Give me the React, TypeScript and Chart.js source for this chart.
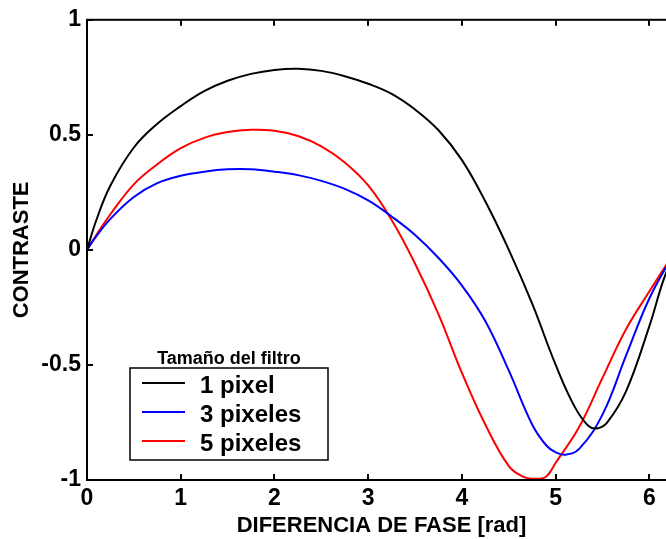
import { useEffect, useRef } from "react";
import { Chart, registerables } from "chart.js";

Chart.register(...registerables);

// Phase difference (rad) and contrast for each filter size
const phase1px = [0, 0.1, 0.25, 0.5, 0.75, 1.0, 1.25, 1.5, 1.75, 2.0, 2.25, 2.5, 2.75, 3.0, 3.25, 3.5, 3.75, 4.0, 4.25, 4.5, 4.75, 5.0, 5.2, 5.35, 5.45, 5.55, 5.75, 6.0, 6.15, 6.283];
const contrast1px = [0, 0.13, 0.28, 0.445, 0.548, 0.625, 0.69, 0.735, 0.765, 0.782, 0.787, 0.778, 0.755, 0.722, 0.678, 0.61, 0.52, 0.39, 0.21, 0.0, -0.235, -0.5, -0.68, -0.765, -0.775, -0.75, -0.615, -0.33, -0.13, 0];

const phase3px = [0, 0.1, 0.25, 0.5, 0.75, 1.0, 1.25, 1.5, 1.75, 2.0, 2.25, 2.5, 2.75, 3.0, 3.25, 3.5, 3.75, 4.0, 4.25, 4.5, 4.75, 4.9, 5.0, 5.1, 5.25, 5.5, 5.75, 6.0, 6.283];
const contrast3px = [0, 0.06, 0.135, 0.23, 0.29, 0.322, 0.34, 0.35, 0.35, 0.34, 0.325, 0.3, 0.265, 0.215, 0.145, 0.065, -0.035, -0.155, -0.31, -0.525, -0.76, -0.85, -0.88, -0.89, -0.865, -0.715, -0.46, -0.21, 0];

const phase5px = [0, 0.1, 0.25, 0.5, 0.75, 1.0, 1.25, 1.5, 1.75, 2.0, 2.25, 2.5, 2.75, 3.0, 3.25, 3.5, 3.75, 4.0, 4.25, 4.5, 4.65, 4.8, 4.9, 5.0, 5.25, 5.5, 5.75, 6.0, 6.283];
const contrast5px = [0, 0.065, 0.155, 0.285, 0.372, 0.442, 0.487, 0.512, 0.522, 0.518, 0.495, 0.45, 0.38, 0.28, 0.13, -0.06, -0.28, -0.535, -0.76, -0.94, -0.985, -0.995, -0.985, -0.925, -0.77, -0.555, -0.345, -0.18, 0];

const seriesLabels = ["1 pixel", "3 pixeles", "5 pixeles"];
const seriesColors = ["#000000", "#0000ff", "#ff0000"];

const xTickValues = [0, 1, 2, 3, 4, 5, 6];
const yTickValues = [-1, -0.5, 0, 0.5, 1];
const yTickLabels = ["-1", "-0.5", "0", "0.5", "1"];

const xTitle = "DIFERENCIA DE FASE [rad]";
const yTitle = "CONTRASTE";
const legendTitle = "Tamaño del filtro";

const FONT = "'Liberation Sans', Arial, Helvetica, sans-serif";
const CANVAS_W = 700;
const CANVAS_H = 539;

// Box around the axes with inward tick marks on all four sides
const framePlugin = {
  id: "axesFrame",
  afterDatasetsDraw(chart: any) {
    const { ctx, chartArea: a, scales } = chart;
    ctx.save();
    ctx.strokeStyle = "#000";
    ctx.lineWidth = 2;
    ctx.strokeRect(a.left, a.top, a.right - a.left, a.bottom - a.top);
    ctx.beginPath();
    const tl = 6;
    for (const v of xTickValues) {
      const px = Math.round(scales.x.getPixelForValue(v));
      ctx.moveTo(px, a.bottom);
      ctx.lineTo(px, a.bottom - tl);
      ctx.moveTo(px, a.top);
      ctx.lineTo(px, a.top + tl);
    }
    for (const v of yTickValues) {
      const py = Math.round(scales.y.getPixelForValue(v));
      ctx.moveTo(a.left, py);
      ctx.lineTo(a.left + tl, py);
      ctx.moveTo(a.right, py);
      ctx.lineTo(a.right - tl, py);
    }
    ctx.stroke();
    ctx.restore();
  },
};

// Boxed legend with its title above it
const legendPlugin = {
  id: "filterLegend",
  afterDraw(chart: any) {
    const { ctx } = chart;
    const x0 = 130;
    const y0 = 368;
    const w = 198;
    const h = 92;
    ctx.save();
    ctx.fillStyle = "#fff";
    ctx.fillRect(x0, y0, w, h);
    ctx.strokeStyle = "#000";
    ctx.lineWidth = 1.5;
    ctx.strokeRect(x0, y0, w, h);
    ctx.fillStyle = "#000";
    ctx.font = `bold 18px ${FONT}`;
    ctx.textAlign = "center";
    ctx.textBaseline = "middle";
    ctx.fillText(legendTitle, x0 + w / 2, y0 - 9);
    chart.data.datasets.forEach((ds: any, i: number) => {
      const y = y0 + 15 + i * 29;
      ctx.strokeStyle = ds.borderColor;
      ctx.lineWidth = 2;
      ctx.beginPath();
      ctx.moveTo(x0 + 12, y);
      ctx.lineTo(x0 + 55, y);
      ctx.stroke();
      ctx.fillStyle = "#000";
      ctx.font = `bold 24px ${FONT}`;
      ctx.textAlign = "left";
      ctx.fillText(ds.label, x0 + 70, y + 3);
    });
    ctx.restore();
  },
};

function toPoints(xs: number[], ys: number[]) {
  return xs.map((x, i) => ({ x, y: ys[i] }));
}

export default function App() {
  const canvasRef = useRef<HTMLCanvasElement | null>(null);

  useEffect(() => {
    const canvas = canvasRef.current;
    if (!canvas) return;
    const series = [
      toPoints(phase1px, contrast1px),
      toPoints(phase3px, contrast3px),
      toPoints(phase5px, contrast5px),
    ];
    const tickFont = { family: FONT, size: 23, weight: "bold" as const };
    const titleFont = { family: FONT, size: 22, weight: "bold" as const };

    const chart = new Chart(canvas, {
      type: "line",
      data: {
        datasets: series.map((data, i) => ({
          label: seriesLabels[i],
          data,
          borderColor: seriesColors[i],
          backgroundColor: seriesColors[i],
          borderWidth: 2,
          pointRadius: 0,
          fill: false,
          tension: 0.4,
        })),
      },
      options: {
        animation: false,
        responsive: false,
        events: [],
        layout: { padding: { top: 18, right: CANVAS_W - 676, left: 0, bottom: 0 } },
        plugins: {
          legend: { display: false },
          tooltip: { enabled: false },
        },
        scales: {
          x: {
            type: "linear",
            min: 0,
            max: 2 * Math.PI,
            afterBuildTicks: (s: any) => {
              s.ticks = xTickValues.map((value) => ({ value }));
            },
            afterFit: (s: any) => {
              s.height = 59;
            },
            grid: { display: false, drawTicks: false },
            border: { display: false },
            ticks: {
              font: tickFont,
              color: "#000",
              padding: 5,
              maxRotation: 0,
              autoSkip: false,
              callback: (v: any) => String(v),
            },
            title: {
              display: true,
              text: xTitle,
              font: titleFont,
              color: "#000",
              padding: { top: 0, bottom: 0 },
            },
          },
          y: {
            type: "linear",
            min: -1,
            max: 1,
            afterBuildTicks: (s: any) => {
              s.ticks = yTickValues.map((value) => ({ value }));
            },
            afterFit: (s: any) => {
              s.width = 87;
            },
            grid: { display: false, drawTicks: false },
            border: { display: false },
            ticks: {
              font: tickFont,
              color: "#000",
              padding: 6,
              autoSkip: false,
              callback: (v: any) => {
                const idx = yTickValues.indexOf(Number(v));
                return idx >= 0 ? yTickLabels[idx] : "";
              },
            },
            title: {
              display: true,
              text: yTitle,
              font: titleFont,
              color: "#000",
              padding: { top: 9, bottom: 0 },
            },
          },
        },
      },
      plugins: [framePlugin, legendPlugin],
    });
    return () => chart.destroy();
  }, []);

  return (
    <div
      style={{
        position: "fixed",
        left: 0,
        top: 0,
        width: 666,
        height: 539,
        overflow: "hidden",
        background: "#fff",
      }}
    >
      <canvas
        ref={canvasRef}
        width={CANVAS_W}
        height={CANVAS_H}
        style={{ display: "block", width: CANVAS_W, height: CANVAS_H }}
      />
    </div>
  );
}
